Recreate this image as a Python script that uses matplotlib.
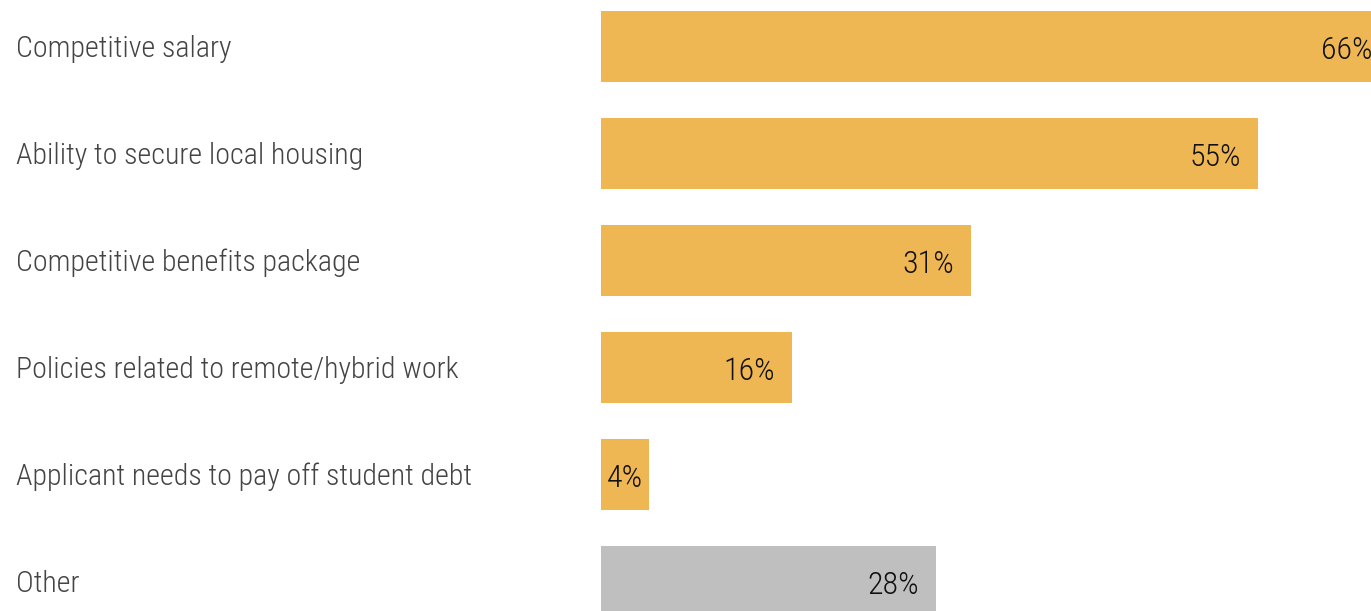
import matplotlib
matplotlib.use("Agg")
import matplotlib.pyplot as plt
import matplotlib.transforms as mtransforms

categories = [
    "Competitive salary",
    "Ability to secure local housing",
    "Competitive benefits package",
    "Policies related to remote/hybrid work",
    "Applicant needs to pay off student debt",
    "Other",
]
values = [66, 55, 31, 16, 4, 28]
colors = ["#EFB654"] * 5 + ["#BFBFBF"]

plt.rcParams["font.family"] = ["Roboto Condensed", "DejaVu Sans"]

W, H = 1371, 611
fig = plt.figure(figsize=(W / 100, H / 100), dpi=100)
ax = fig.add_axes([601 / W, 0, 1 - 601 / W, 1])

# roughly 11.95 px per percentage point; the widest bar runs off the right edge
px_per_pct = 11.95
ax.set_xlim(0, (W - 601) / px_per_pct)
step = 107
ax.set_ylim(5 + 29.5 / step, -46.5 / step)

ypos = list(range(len(categories)))
ax.barh(ypos, values, height=71 / step, color=colors, edgecolor="none")
ax.axis("off")

cat_fs, val_fs = 21.6, 23
label_tf = mtransforms.blended_transform_factory(fig.transFigure, ax.transData)
for y, cat in zip(ypos, categories):
    ax.text(16 / W, y + 10.5 / step, cat, transform=label_tf, ha="left",
            va="baseline", fontsize=cat_fs, fontweight="light",
            color="#444444", clip_on=False)

pad = 17 / px_per_pct
for y, v in zip(ypos, values):
    base = y + 12.5 / step
    if v > 8:
        ax.text(v - pad, base, f"{v}%", ha="right", va="baseline",
                fontsize=val_fs, fontweight="light", color="#111111",
                clip_on=True)
    else:
        ax.text(v / 2, base, f"{v}%", ha="center", va="baseline",
                fontsize=val_fs, fontweight="light", color="#111111")

fig.savefig("out.png", dpi=100)
